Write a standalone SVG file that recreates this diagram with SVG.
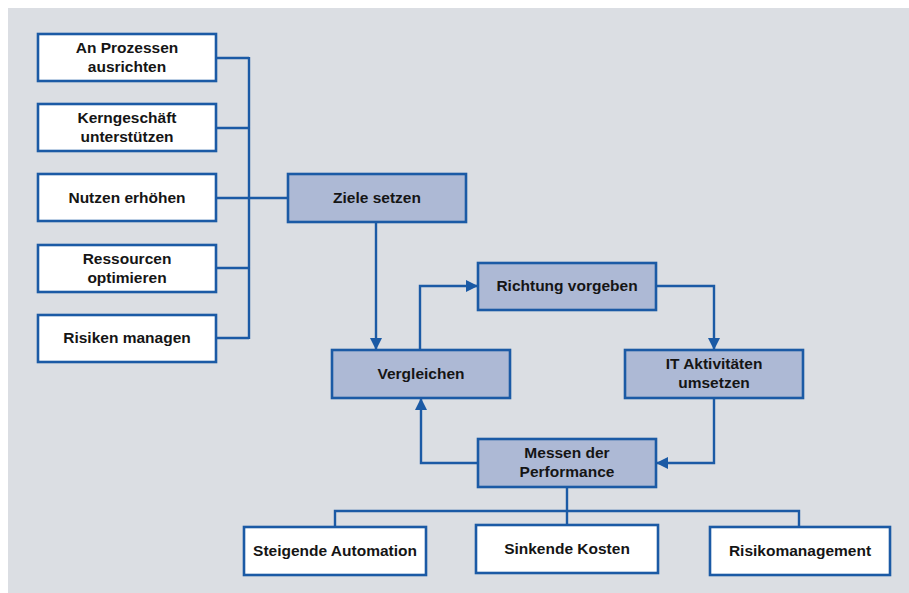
<svg xmlns="http://www.w3.org/2000/svg" width="909" height="593" viewBox="0 0 909 593">
<defs>
<style>
.bg{fill:#dbdee3}
.w{fill:#ffffff;stroke:#1b5aa5;stroke-width:2.6}
.b{fill:#adb9d5;stroke:#1b5aa5;stroke-width:2.6}
.t{font-family:"Liberation Sans",Arial,sans-serif;font-weight:bold;font-size:15.5px;fill:#151515;text-anchor:middle}
.c{fill:none;stroke:#1b5aa5;stroke-width:2.4}
</style>
<marker id="a" viewBox="0 0 12 12" refX="12" refY="6" markerWidth="12" markerHeight="12" orient="auto" markerUnits="userSpaceOnUse">
<path d="M0,0 L12,6 L0,12 z" fill="#1b5aa5"/>
</marker>
</defs>
<rect class="bg" x="8" y="8" width="901" height="585"/>
<g id="connectors">
<path class="c" d="M216,58 H249 M216,128 H249 M216,198 H288 M216,268 H249 M216,338 H249 M249,57 V339"/>
<path class="c" d="M376,222 V350" marker-end="url(#a)"/>
<path class="c" d="M420,350 V286 H478" marker-end="url(#a)"/>
<path class="c" d="M656,286 H714 V350" marker-end="url(#a)"/>
<path class="c" d="M714,398 V463 H656" marker-end="url(#a)"/>
<path class="c" d="M478,463 H421 V398" marker-end="url(#a)"/>
<path class="c" d="M567,487 V526 M335,527 V511 H799 V527"/>
</g>
<g id="n1"><rect class="w" x="38" y="34" width="178" height="47"/><text class="t" x="127" y="53">An Prozessen</text><text class="t" x="127" y="72">ausrichten</text></g>
<g id="n2"><rect class="w" x="38" y="104" width="178" height="47"/><text class="t" x="127" y="123">Kerngeschäft</text><text class="t" x="127" y="142">unterstützen</text></g>
<g id="n3"><rect class="w" x="38" y="174" width="178" height="47"/><text class="t" x="127" y="203">Nutzen erhöhen</text></g>
<g id="n4"><rect class="w" x="38" y="245" width="178" height="47"/><text class="t" x="127" y="264">Ressourcen</text><text class="t" x="127" y="283">optimieren</text></g>
<g id="n5"><rect class="w" x="38" y="315" width="178" height="47"/><text class="t" x="127" y="343">Risiken managen</text></g>
<g id="ziele"><rect class="b" x="288" y="174" width="178" height="48"/><text class="t" x="377" y="203">Ziele setzen</text></g>
<g id="richtung"><rect class="b" x="478" y="263" width="178" height="47"/><text class="t" x="567" y="291">Richtung vorgeben</text></g>
<g id="vergleichen"><rect class="b" x="332" y="350" width="178" height="48"/><text class="t" x="421" y="379">Vergleichen</text></g>
<g id="it"><rect class="b" x="625" y="350" width="178" height="48"/><text class="t" x="714" y="369">IT Aktivitäten</text><text class="t" x="714" y="388">umsetzen</text></g>
<g id="messen"><rect class="b" x="478" y="439" width="178" height="48"/><text class="t" x="567" y="458">Messen der</text><text class="t" x="567" y="477">Performance</text></g>
<g id="steigende"><rect class="w" x="244" y="527" width="182" height="48"/><text class="t" x="335" y="556">Steigende Automation</text></g>
<g id="sinkende"><rect class="w" x="476" y="525" width="182" height="48"/><text class="t" x="567" y="554">Sinkende Kosten</text></g>
<g id="risiko"><rect class="w" x="710" y="527" width="180" height="48"/><text class="t" x="800" y="556">Risikomanagement</text></g>
</svg>
